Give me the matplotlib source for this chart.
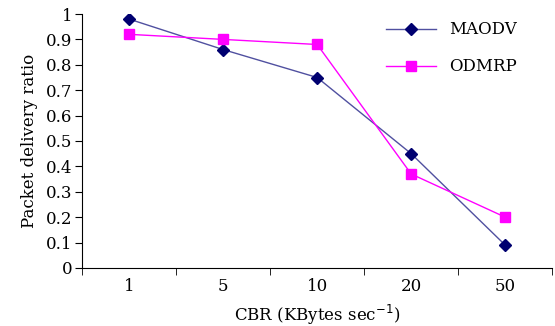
import matplotlib.pyplot as plt
import numpy as np

cbr = ["1", "5", "10", "20", "50"]
maodv = [0.98, 0.86, 0.75, 0.45, 0.09]
odmrp = [0.92, 0.90, 0.88, 0.37, 0.20]

plt.rcParams['font.family'] = ['DejaVu Serif']

fig = plt.figure(figsize=(5.55, 3.26), dpi=100)
ax = fig.add_axes([0.148, 0.178, 0.847, 0.779])

x = np.arange(len(cbr))
ax.plot(x, maodv, color='#5050a0', lw=1, marker='D', markersize=6,
        markerfacecolor='#000070', markeredgecolor='#000070', label='MAODV')
ax.plot(x, odmrp, color='#ff00ff', lw=1, marker='s', markersize=7,
        markerfacecolor='#ff00ff', markeredgecolor='#ff00ff', label='ODMRP')

ax.set_xlim(-0.5, len(cbr) - 0.5)
ax.set_ylim(0, 1)
ax.set_yticks(np.arange(0, 1.01, 0.1))
ax.set_yticklabels(["0"] + [f"{v:.1f}" for v in np.arange(0.1, 0.95, 0.1)] + ["1"])
ax.set_xticks(x)
ax.set_xticklabels(cbr)
ax.set_xticks(np.arange(-0.5, len(cbr), 1), minor=True)
ax.tick_params(axis='x', which='major', length=0, pad=7)
ax.tick_params(axis='x', which='minor', length=5)
ax.tick_params(axis='y', length=5, pad=2)
ax.tick_params(labelsize=12)

for s in ['top', 'right']:
    ax.spines[s].set_visible(False)

ax.set_xlabel('CBR (KBytes sec$^{-1}$)', fontsize=12, labelpad=6)
ax.set_ylabel('Packet delivery ratio', fontsize=12, labelpad=6)

ax.legend(loc='upper left', bbox_to_anchor=(0.615, 1.03), frameon=False,
          fontsize=12, handlelength=3.0, labelspacing=1.2)

fig.savefig('out.png', dpi=100)
